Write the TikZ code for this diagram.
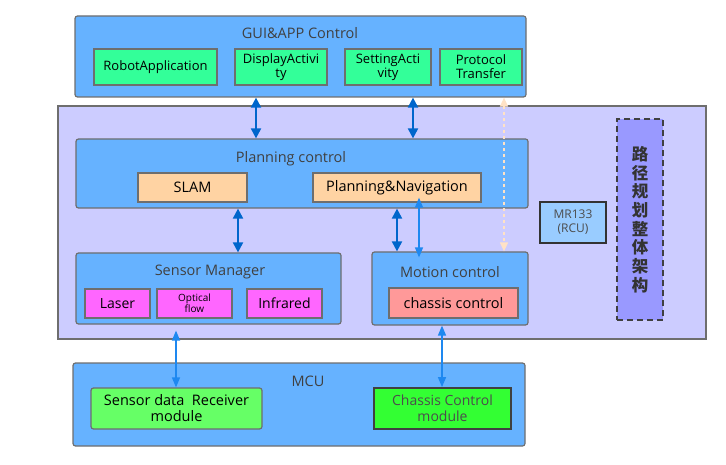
\documentclass[tikz,border=0pt]{standalone}
\usepackage{fontspec}
\setmainfont{Open Sans}
\newfontfamily\cjk{Noto Sans CJK SC}
\usetikzlibrary{positioning, arrows.meta}
\definecolor{boxblue}{HTML}{66B2FF}
\definecolor{lavender}{HTML}{CCCCFF}
\definecolor{appgreen}{HTML}{33FF99}
\definecolor{peach}{HTML}{FFD3A3}
\definecolor{sensorpink}{HTML}{FF66FF}
\definecolor{salmon}{HTML}{FF9999}
\definecolor{rcublue}{HTML}{99CCFF}
\definecolor{archviolet}{HTML}{9999FF}
\definecolor{rxgreen}{HTML}{66FF66}
\definecolor{ctlgreen}{HTML}{33FF33}
\definecolor{linkblue}{HTML}{0066CC}
\definecolor{busblue}{HTML}{1E88F0}
\definecolor{dashpeach}{HTML}{FFE2C6}
\definecolor{edgegray}{HTML}{6E6E6E}
\tikzstyle{layer}=[rectangle, draw=edgegray, line width=1.2pt, rounded corners=2.5pt, fill=boxblue, inner sep=0pt]
\tikzstyle{module}=[rectangle, draw=edgegray, line width=1.2pt, inner sep=0pt, align=center, font=\fontsize{13}{14}\selectfont]
\tikzstyle{title}=[text=black!75, font=\fontsize{14.5}{16}\selectfont]
\tikzstyle{arrow}=[draw=linkblue, line width=2pt, {Triangle[width=10pt,length=10pt]}-{Triangle[width=10pt,length=10pt]}]
\tikzstyle{busarrow}=[draw=busblue, line width=1.4pt, {Triangle[width=8pt,length=10pt]}-{Triangle[width=8pt,length=10pt]}]
\tikzstyle{dashedarrow}=[draw=dashpeach, line width=1.4pt, dashed, {Triangle[width=8pt,length=9pt]}-{Triangle[width=8pt,length=9pt]}]

\begin{document}
\begin{tikzpicture}[x=1pt, y=-1pt]
    \useasboundingbox (0,0) rectangle (726,465);
    	% Layers
    	\node[rectangle, draw=edgegray, line width=1.2pt, fill=lavender, minimum width=648pt, minimum height=233pt] (rcu) at (382,222.5) {};
    	\node[layer, minimum width=451pt, minimum height=81pt] (gui) at (300.5,56.5) {};
    	\node[layer, minimum width=452pt, minimum height=69pt] (plan) at (302,173.5) {};
    	\node[layer, minimum width=265pt, minimum height=71pt] (sensor) at (208.5,288.5) {};
    	\node[layer, minimum width=156pt, minimum height=73pt] (motion) at (450,288.5) {};
    	\node[layer, minimum width=452pt, minimum height=83pt] (mcu) at (299,404.5) {};

    	% Titles
    	\node[title] (guititle) at (300,33) {GUI\&APP Control};
    	\node[title] (plantitle) at (291,159) {Planning control};
    	\node[title] (sensortitle) at (210,272) {Sensor Manager};
    	\node[title] (motiontitle) at (450,272) {Motion control};
    	\node[title] (mcutitle) at (308,381) {MCU};

    	% Modules
    	\node[module, fill=appgreen, minimum width=123pt, minimum height=36pt] (robotapp) at (155.5,67) {RobotApplication};
    	\node[module, fill=appgreen, minimum width=92pt, minimum height=36pt] (display) at (281,67) {DisplayActivi\\ty};
    	\node[module, fill=appgreen, minimum width=86pt, minimum height=36pt] (setting) at (388,67) {SettingActi\\vity};
    	\node[module, fill=appgreen, minimum width=82pt, minimum height=36pt] (protocol) at (481,67) {Protocol\\Transfer};
    	\node[module, fill=peach, minimum width=109pt, minimum height=29pt, font=\fontsize{14.5}{16}\selectfont] (slam) at (192.5,187.5) {SLAM};
    	\node[module, fill=peach, minimum width=168pt, minimum height=29pt, font=\fontsize{14.5}{16}\selectfont] (pnav) at (397,187.5) {Planning\&Navigation};
    	\node[module, fill=sensorpink, minimum width=65pt, minimum height=29pt, font=\fontsize{14}{15}\selectfont] (laser) at (117.5,303.5) {Laser};
    	\node[module, fill=sensorpink, minimum width=75pt, minimum height=29pt, font=\fontsize{10}{11}\selectfont] (optical) at (194.5,303.5) {Optical\\flow};
    	\node[module, fill=sensorpink, minimum width=75pt, minimum height=29pt, font=\fontsize{14}{15}\selectfont] (infrared) at (284.5,303.5) {Infrared};
    	\node[module, fill=salmon, minimum width=129pt, minimum height=30pt, font=\fontsize{14.5}{16}\selectfont] (chassis) at (453.5,303) {chassis control};
    	\node[module, fill=rcublue, draw=black!80, line width=1.5pt, minimum width=66pt, minimum height=41pt, text=black!70, font=\fontsize{12}{14}\selectfont] (mr133) at (573,222.5) {MR133\\(RCU)};
    	\node[module, fill=archviolet, draw=black!75, line width=1.8pt, dash pattern=on 6pt off 4pt, minimum width=46pt, minimum height=201pt, text=black!80, font=\cjk\bfseries\fontsize{16.5}{18.7}\selectfont] (arch) at (640,219.5) {路\\径\\规\\划\\整\\体\\架\\构};
    	\node[module, fill=rxgreen, rounded corners=2.5pt, minimum width=171pt, minimum height=41pt, font=\fontsize{14.5}{16}\selectfont] (receiver) at (176.5,408.5) {Sensor data \ Receiver\\module};
    	\node[module, fill=ctlgreen, draw=black!75, line width=1.8pt, minimum width=137pt, minimum height=41pt, text=black!70, font=\fontsize{14}{16}\selectfont] (ctlmodule) at (442.5,408.5) {Chassis Control\\module};

    	% Arrow columns
    	\coordinate (colA) at (256,0);
    	\coordinate (colB) at (413,0);
    	\coordinate (colC) at (504,0);
    	\coordinate (colD) at (238,0);
    	\coordinate (colE) at (397,0);
    	\coordinate (colF) at (419,0);
    	\coordinate (colG) at (176,0);
    	\coordinate (colH) at (442,0);

    	% Links
    	\draw[arrow] (gui.south -| colA) -- (plan.north -| colA);
    	\draw[arrow] (gui.south -| colB) -- (plan.north -| colB);
    	\draw[dashedarrow] (gui.south -| colC) -- (motion.north -| colC);
    	\draw[arrow] (plan.south -| colD) -- (sensor.north -| colD);
    	\draw[arrow] (plan.south -| colE) -- (motion.north -| colE);
    	\draw[busarrow, shorten <=-5pt, shorten >=-6pt] (pnav.south -| colF) -- (motion.north -| colF);
    	\draw[busarrow, shorten <=6pt] (sensor.south -| colG) -- (receiver.north -| colG);
    	\draw[busarrow] (motion.south -| colH) -- (ctlmodule.north -| colH);
    \end{tikzpicture}
\end{document}
